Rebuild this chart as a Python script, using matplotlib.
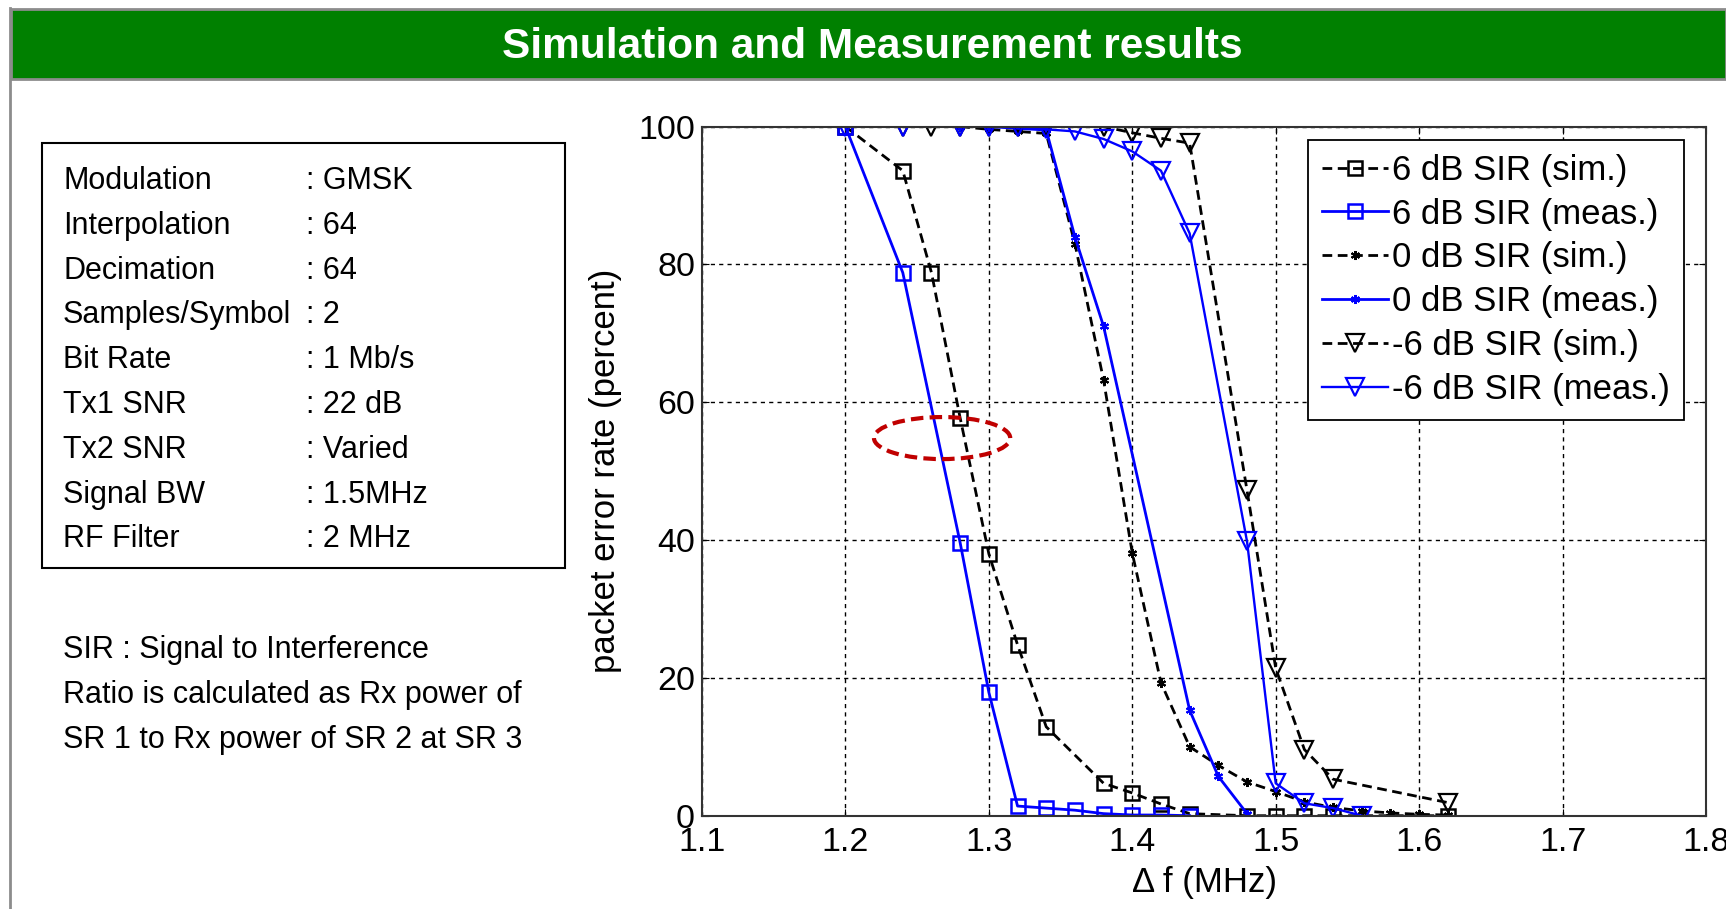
import matplotlib
matplotlib.use('Agg')
import matplotlib.pyplot as plt
from matplotlib.patches import Rectangle, Ellipse
from matplotlib.lines import Line2D
from matplotlib import font_manager

# --- données ---
f6_sim = [1.20, 1.24, 1.26, 1.28, 1.30, 1.32, 1.34, 1.38, 1.40, 1.42, 1.44, 1.48, 1.50, 1.52, 1.54, 1.62]
p6_sim = [100, 93.6, 78.8, 57.7, 38.0, 24.8, 12.9, 4.7, 3.3, 1.7, 0.3, 0, 0, 0, 0, 0]

f6_meas = [1.20, 1.24, 1.28, 1.30, 1.32, 1.34, 1.36, 1.38, 1.40, 1.42, 1.44]
p6_meas = [100, 78.8, 39.6, 17.9, 1.4, 1.1, 0.8, 0.3, 0.1, 0.1, 0]

f0_sim = [1.28, 1.30, 1.32, 1.34, 1.36, 1.38, 1.40, 1.42, 1.44, 1.46, 1.48, 1.50, 1.52, 1.54, 1.56, 1.58, 1.60, 1.62]
p0_sim = [100, 99.6, 99.3, 99.0, 83, 63.2, 38.1, 19.3, 10.0, 7.3, 4.9, 3.5, 2.0, 1.2, 0.7, 0.4, 0.2, 0.1]

f0_meas = [1.28, 1.30, 1.34, 1.36, 1.38, 1.44, 1.46, 1.48]
p0_meas = [100, 100, 99.5, 84, 71, 15.3, 5.7, 0.3]

fm6_sim = [1.24, 1.26, 1.28, 1.30, 1.32, 1.34, 1.38, 1.40, 1.42, 1.44, 1.48, 1.50, 1.52, 1.54, 1.62]
pm6_sim = [100, 100, 100, 100, 100, 100, 100, 99.1, 98.3, 97.6, 47.2, 21.4, 9.6, 5.3, 1.9]

fm6_meas = [1.20, 1.24, 1.28, 1.30, 1.32, 1.34, 1.36, 1.38, 1.40, 1.42, 1.44, 1.48, 1.50, 1.52, 1.54, 1.56]
pm6_meas = [100, 100, 100, 100, 100, 99.6, 99.3, 98.2, 96.4, 93.6, 84.5, 39.8, 4.7, 1.8, 1.1, 0]

labels = ['6 dB SIR (sim.)', '6 dB SIR (meas.)', '0 dB SIR (sim.)',
          '0 dB SIR (meas.)', '-6 dB SIR (sim.)', '-6 dB SIR (meas.)']

params = ['Modulation', 'Interpolation', 'Decimation', 'Samples/Symbol', 'Bit Rate',
          'Tx1 SNR', 'Tx2 SNR', 'Signal BW', 'RF Filter']
values = [': GMSK', ': 64', ': 64', ': 2', ': 1 Mb/s', ': 22 dB', ': Varied', ': 1.5MHz', ': 2 MHz']
note = ['SIR : Signal to Interference',
        'Ratio is calculated as Rx power of',
        'SR 1 to Rx power of SR 2 at SR 3']

W, H = 1726, 909
noms = {f.name for f in font_manager.fontManager.ttflist}
if 'Liberation Sans Narrow' in noms:
    police_txt, taille_txt = 'Liberation Sans Narrow', 27
else:
    police_txt, taille_txt = 'Liberation Sans', 22
plt.rcParams['font.family'] = ['Liberation Sans', 'DejaVu Sans']

fig = plt.figure(figsize=(W / 100, H / 100), dpi=100)

def fx(x):
    return x / W
def fy(y):
    return 1 - y / H

# bandeau vert + cadre
fig.patches.append(Rectangle((fx(11), fy(79)), (W - 11) / W, 70 / H, transform=fig.transFigure,
                             facecolor='#008000', edgecolor='#8c8c8c', lw=2))
fig.add_artist(Line2D([fx(10), fx(10)], [0, fy(8)], color='#8c8c8c', lw=2, transform=fig.transFigure))
fig.text(fx(872), fy(47), 'Simulation and Measurement results', color='white', fontsize=30.5,
         fontweight='bold', ha='center', va='center')

# tableau des paramètres
fig.patches.append(Rectangle((fx(42), fy(568)), (565 - 42) / W, (568 - 143) / H, transform=fig.transFigure,
                             facecolor='none', edgecolor='black', lw=1.5))
for i, (p, v) in enumerate(zip(params, values)):
    yb = 189 + i * 44.8
    fig.text(fx(63), fy(yb), p, family=police_txt, fontsize=taille_txt, va='baseline')
    fig.text(fx(306), fy(yb), v, family=police_txt, fontsize=taille_txt, va='baseline')
for i, l in enumerate(note):
    fig.text(fx(63), fy(658 + i * 44.8), l, family=police_txt, fontsize=taille_txt, va='baseline')

# graphe
ax = fig.add_axes([702 / W, (H - 815.7) / H, (1706 - 702) / W, (815.7 - 126.6) / H])
tiret = (0, (3.5, 2))
ms_c, ms_t = 10.5, 12.5
ax.plot(f6_sim, p6_sim, color='black', ls=tiret, lw=2, marker='s', ms=ms_c, mfc='none', mew=1.8, label=labels[0])
ax.plot(f6_meas, p6_meas, color='#0000ff', ls='-', lw=2, marker='s', ms=ms_c, mfc='none', mew=1.8, label=labels[1])
ax.plot(f0_sim, p0_sim, color='black', ls=tiret, lw=2, marker=(6, 2, 0), ms=6.5, mew=1.5, label=labels[2])
ax.plot(f0_meas, p0_meas, color='#0000ff', ls='-', lw=2, marker=(6, 2, 0), ms=6.5, mew=1.5, label=labels[3])
ax.plot(fm6_sim, pm6_sim, color='black', ls=tiret, lw=2, marker='v', ms=ms_t, mfc='none', mew=1.6, label=labels[4])
ax.plot(fm6_meas, pm6_meas, color='#0000ff', ls='-', lw=1.7, marker='v', ms=ms_t, mfc='none', mew=1.6, label=labels[5])

ax.add_patch(Ellipse((1.2674, 54.8), 0.095, 6.1, fill=False, edgecolor='#c00000', lw=3,
                     ls=(0, (3, 1.5)), zorder=5))

ax.set_xlim(1.1, 1.8)
ax.set_ylim(0, 100)
ax.set_xticks([1.1, 1.2, 1.3, 1.4, 1.5, 1.6, 1.7, 1.8])
ax.set_yticks([0, 20, 40, 60, 80, 100])
ax.grid(True, color='black', ls=(0, (3, 3)), lw=1)
ax.tick_params(direction='in', length=5, labelsize=24.5, pad=5, top=True, right=True)
ax.tick_params(axis='x', pad=8)
for s in ax.spines.values():
    s.set_color('#333333')
    s.set_linewidth(1.5)
ax.set_xlabel('\u0394 f (MHz)', fontsize=25, labelpad=6)
ax.set_ylabel('packet error rate (percent)', fontsize=25, labelpad=12)

leg = ax.legend(loc='upper right', bbox_to_anchor=(0.978, 0.9806), borderaxespad=0, fontsize=25,
                fancybox=False, edgecolor='black', framealpha=1, handlelength=1.9,
                handletextpad=0.13, labelspacing=0.31, borderpad=0.4)
leg.get_frame().set_linewidth(1.3)

fig.savefig('out.png', dpi=100)
